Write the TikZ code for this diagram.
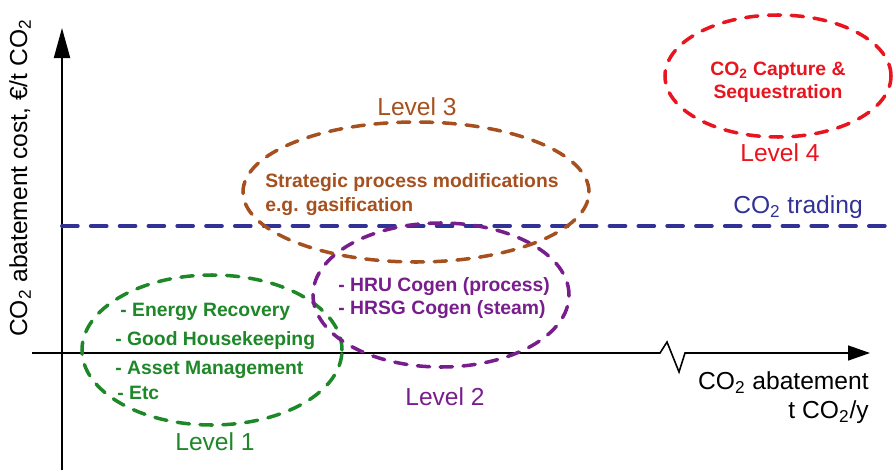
\documentclass[tikz,border=0pt]{standalone}
\usepackage{fontspec}
\setmainfont{Liberation Sans}
\usetikzlibrary{shapes.geometric,arrows.meta}
\definecolor{LevelGreen}{RGB}{30,135,40}
\definecolor{LevelPurple}{RGB}{120,30,140}
\definecolor{LevelBrown}{RGB}{165,80,30}
\definecolor{LevelRed}{RGB}{232,20,30}
\definecolor{TradeBlue}{RGB}{50,50,150}
\newcommand{\cotwo}{CO\textsubscript{2}}

\begin{document}
\begin{tikzpicture}
            \tikzset{RingStyle/.style={ellipse,draw,line width=2pt,line cap=round,dash pattern=on 7pt off 6pt,inner sep=0pt}};
            \tikzset{ItemStyle/.style={anchor=west,inner sep=0pt,font=\fontsize{11}{13}\selectfont\bfseries}};
            \tikzset{LabelStyle/.style={inner sep=0pt,font=\fontsize{14}{16.4}\selectfont}};
            \useasboundingbox (0,0) rectangle (17.86,9.4);

            \coordinate (ybot) at (1.24,0);
            \coordinate (ytop) at (1.24,8.84);
            \draw[line width=1.1pt,-{Triangle[length=0.6cm,width=0.32cm]}] (ybot) -- (ytop);
            \coordinate (xstart) at (0.64,2.34);
            \coordinate (breakA) at (13.2,2.34);
            \coordinate (breakB) at (13.34,2.56);
            \coordinate (breakC) at (13.58,1.96);
            \coordinate (breakD) at (13.7,2.34);
            \coordinate (xend) at (17.4,2.34);
            \draw[line width=0.9pt,-{Triangle[length=0.44cm,width=0.3cm]}] (xstart) -- (breakA) -- (breakB) -- (breakC) -- (breakD) -- (xend);
            \node[LabelStyle,rotate=90] (ylabel) at (0.4,5.84) {\cotwo{} abatement cost, €/t \cotwo};
            \node[LabelStyle,align=right,anchor=east] (xlabel) at (17.38,1.45) {\cotwo{} abatement\\t \cotwo/y};

            \coordinate (tradeA) at (1.24,4.88);
            \coordinate (tradeB) at (17.86,4.88);
            \draw[TradeBlue,line width=2.2pt,line cap=round,dash pattern=on 9pt off 7.4pt] (tradeA) -- (tradeB);
            \node[LabelStyle,TradeBlue] (trade) at (15.96,5.26) {\cotwo{} trading};

            \node[RingStyle,draw=LevelGreen,minimum width=5.2cm,minimum height=3cm] (ringone) at (4.24,2.4) {};
            \node[ItemStyle,LevelGreen] (energy) at (2.4,3.16) {- Energy Recovery};
            \node[ItemStyle,LevelGreen] (house) at (2.3,2.58) {- Good Housekeeping};
            \node[ItemStyle,LevelGreen] (asset) at (2.3,2.0) {- Asset Management};
            \node[ItemStyle,LevelGreen] (etc) at (2.34,1.54) {- Etc};
            \node[LabelStyle,LevelGreen] (levelone) at (4.3,0.56) {Level 1};

            \node[RingStyle,draw=LevelPurple,minimum width=5.12cm,minimum height=2.88cm] (ringtwo) at (8.82,3.5) {};
            \node[ItemStyle,LevelPurple] (hru) at (6.76,3.66) {- HRU Cogen (process)};
            \node[ItemStyle,LevelPurple] (hrsg) at (6.76,3.2) {- HRSG Cogen (steam)};
            \node[LabelStyle,LevelPurple] (leveltwo) at (8.9,1.46) {Level 2};

            \node[RingStyle,draw=LevelBrown,minimum width=6.92cm,minimum height=2.8cm] (ringthree) at (8.32,5.56) {};
            \node[ItemStyle,LevelBrown] (strategic) at (5.3,5.74) {Strategic process modifications};
            \node[ItemStyle,LevelBrown] (gasify) at (5.3,5.26) {e.g. gasification};
            \node[LabelStyle,LevelBrown] (levelthree) at (8.34,7.26) {Level 3};

            \node[RingStyle,draw=LevelRed,minimum width=4.52cm,minimum height=2.44cm] (ringfour) at (15.56,7.88) {};
            \node[inner sep=0pt,align=center,LevelRed,font=\fontsize{11}{13}\selectfont\bfseries] (capture) at (15.56,7.75) {\cotwo{} Capture \&\\Sequestration};
            \node[LabelStyle,LevelRed] (levelfour) at (15.6,6.34) {Level 4};
\end{tikzpicture}
\end{document}
